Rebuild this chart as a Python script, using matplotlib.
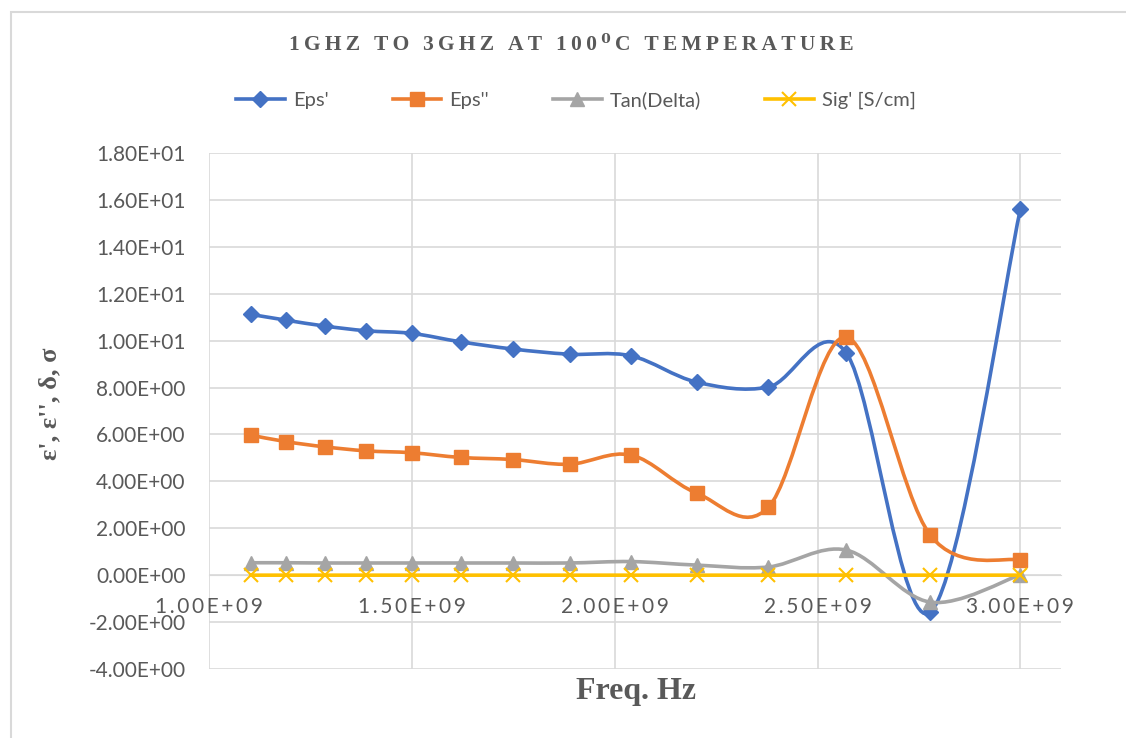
import numpy as np
import matplotlib
matplotlib.use('Agg')
import matplotlib.pyplot as plt
from matplotlib.path import Path
from matplotlib.patches import PathPatch, Rectangle
from matplotlib.lines import Line2D

# ---------------- data ----------------
freq = [1.103e9, 1.191e9, 1.286e9, 1.388e9, 1.500e9, 1.620e9, 1.750e9,
        1.889e9, 2.041e9, 2.202e9, 2.379e9, 2.571e9, 2.778e9, 3.000e9]
eps1 = [11.12, 10.87, 10.62, 10.42, 10.31, 9.95, 9.64,
        9.42, 9.35, 8.23, 8.02, 9.47, -1.58, 15.61]
eps2 = [5.97, 5.69, 5.47, 5.30, 5.22, 5.02, 4.93,
        4.73, 5.12, 3.50, 2.90, 10.15, 1.70, 0.64]
tand = [0.53, 0.53, 0.52, 0.52, 0.52, 0.52, 0.52,
        0.52, 0.58, 0.43, 0.35, 1.07, -1.15, 0.02]
sig = [0.001, 0.001, 0.001, 0.001, 0.001, 0.001, 0.001,
       0.001, 0.001, 0.001, 0.001, 0.002, 0.001, 0.001]

series_names = ["Eps'", "Eps''", "Tan(Delta)", "Sig' [S/cm]"]
xtick_vals = [1.0e9, 1.5e9, 2.0e9, 2.5e9, 3.0e9]
xtick_labels = ['1.00E+09', '1.50E+09', '2.00E+09', '2.50E+09', '3.00E+09']
ytick_vals = [-4, -2, 0, 2, 4, 6, 8, 10, 12, 14, 16, 18]
ytick_labels = ['-4.00E+00', '-2.00E+00', '0.00E+00', '2.00E+00', '4.00E+00',
                '6.00E+00', '8.00E+00', '1.00E+01', '1.20E+01', '1.40E+01',
                '1.60E+01', '1.80E+01']
title = '1GHZ TO 3GHZ AT 100\u2070C TEMPERATURE'
xlabel = 'Freq. Hz'
ylabel = "\u03b5', \u03b5'', \u03b4, \u03c3"

# ---------------- style ----------------
colors = ['#4472C4', '#ED7D31', '#A5A5A5', '#FFC000']
markers = ['D', 's', '^', 'x']
msizes = [8, 10.5, 10, 10]
TXT = '#595959'
GRID = '#D9D9D9'


def smooth_path(x, y):
    x = np.asarray(x, float)
    y = np.asarray(y, float)
    n = len(x)
    verts = [(x[0], y[0])]
    codes = [Path.MOVETO]
    for i in range(n - 1):
        xm, ym = (x[i - 1], y[i - 1]) if i > 0 else (x[i], y[i])
        xp, yp = (x[i + 2], y[i + 2]) if i + 2 < n else (x[i + 1], y[i + 1])
        c1 = (x[i] + (x[i + 1] - xm) / 6, y[i] + (y[i + 1] - ym) / 6)
        c2 = (x[i + 1] - (xp - x[i]) / 6, y[i + 1] - (yp - y[i]) / 6)
        verts += [c1, c2, (x[i + 1], y[i + 1])]
        codes += [Path.CURVE4] * 3
    return Path(verts, codes)


def spaced(s):
    return '\u2009'.join(s)


fig = plt.figure(figsize=(11.26, 7.38), dpi=100)
ax = fig.add_axes([209 / 1126, 1 - 669 / 738, (1061 - 209) / 1126, (669 - 153) / 738])

for s in ['left', 'right', 'top']:
    ax.spines[s].set_visible(False)
ax.spines['bottom'].set_position(('data', 0))
ax.spines['bottom'].set_color(GRID)

ax.set_xlim(1.0e9, 3.1e9)
ax.set_ylim(-4, 18)
ax.tick_params(axis='both', length=0)
ax.tick_params(axis='y', pad=17)
ax.tick_params(axis='x', pad=16)
ax.set_xticks(xtick_vals)
ax.set_xticklabels([spaced(t) for t in xtick_labels],
                   fontfamily=['Lato', 'DejaVu Sans'], fontsize=15, color=TXT)
ax.set_yticks(ytick_vals)
ax.set_yticklabels(ytick_labels, fontfamily='Lato', fontsize=15, color=TXT)
ax.grid(True, color=GRID, lw=1.2)
ax.set_axisbelow(True)

all_series = [eps1, eps2, tand, sig]
for k, ys in enumerate(all_series):
    patch = PathPatch(smooth_path(freq, ys), fill=False, ec=colors[k], lw=2.6,
                      zorder=3 + 2 * k, capstyle='round', joinstyle='round')
    ax.add_patch(patch)
    if markers[k] == 'x':
        ax.plot(freq, ys, ls='none', marker='x', ms=msizes[k], mec=colors[k],
                mew=1.5, zorder=4 + 2 * k)
    else:
        ax.plot(freq, ys, ls='none', marker=markers[k], ms=msizes[k],
                mfc=colors[k], mec=colors[k], zorder=4 + 2 * k)

handles = []
for k in range(4):
    if markers[k] == 'x':
        h = Line2D([], [], color=colors[k], lw=2.6, marker='x', ms=msizes[k],
                   mec=colors[k], mew=1.5)
    else:
        h = Line2D([], [], color=colors[k], lw=2.6, marker=markers[k],
                   ms=msizes[k], mfc=colors[k], mec=colors[k])
    handles.append(h)
leg = fig.legend(handles, series_names, loc='center',
                 bbox_to_anchor=(576 / 1126, 1 - 100 / 738), ncol=4,
                 frameon=False, prop={'family': 'Lato', 'size': 14.5},
                 handlelength=2.4, handletextpad=0.4, columnspacing=3.2)
for t in leg.get_texts():
    t.set_color(TXT)

fig.text(571 / 1126, 1 - 45 / 738, spaced(title),
         family=['Liberation Serif', 'DejaVu Serif'], fontweight='bold',
         fontsize=15.5, color=TXT, ha='center', va='center')
fig.text(636 / 1126, 1 - 692 / 738, xlabel, family='Liberation Serif',
         fontweight='bold', fontsize=23, color=TXT, ha='center', va='center')
fig.text(50 / 1126, 1 - 404 / 738, ylabel, family='Liberation Serif',
         fontweight='bold', fontsize=19, color=TXT, ha='center', va='center',
         rotation=90)

fig.add_artist(Rectangle((11 / 1126, -0.1), 1.2, 1 - 12 / 738 + 0.1,
                         transform=fig.transFigure, fill=False, ec=GRID, lw=1.5))

fig.savefig('out.png', dpi=100, facecolor='white')
